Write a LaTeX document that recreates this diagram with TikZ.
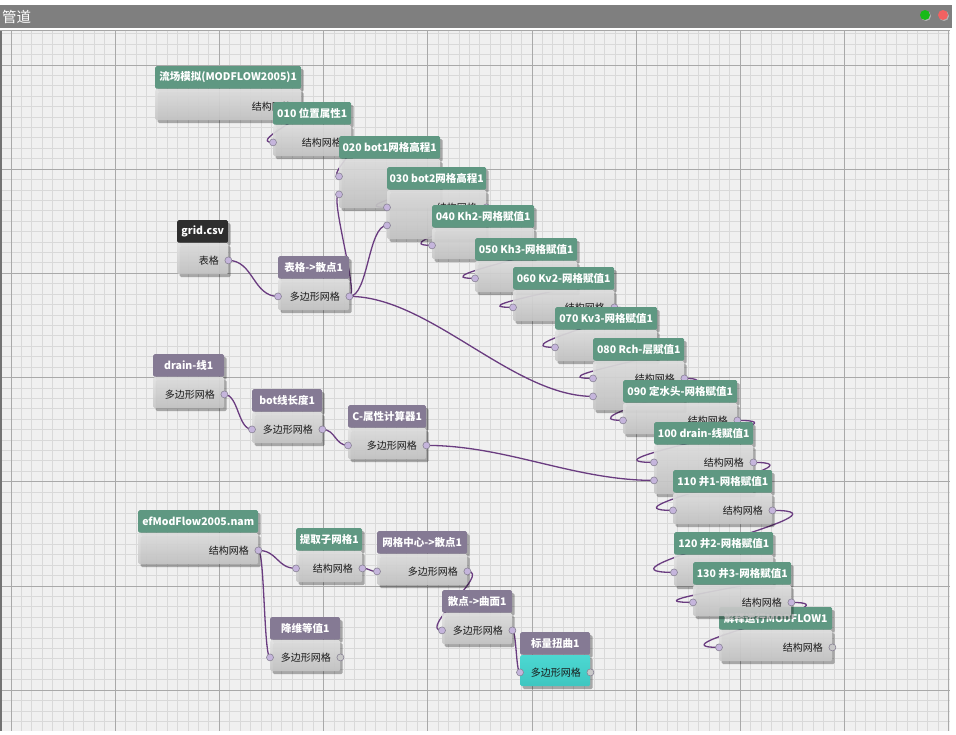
\documentclass[tikz,border=0pt]{standalone}
\usepackage{fontspec}
\setmainfont{Noto Sans CJK SC}
\usetikzlibrary{shadows}
\pgfdeclarelayer{back}
\pgfdeclarelayer{wires}
\pgfsetlayers{back,wires,main}
\definecolor{hdgreen}{HTML}{5F9882}
\definecolor{hdpurple}{HTML}{857A94}
\definecolor{hdblack}{HTML}{2E2E2E}
\definecolor{bodytop}{HTML}{E2E2E2}
\definecolor{bodybot}{HTML}{C6C6C6}
\definecolor{tealtop}{HTML}{4CD8D2}
\definecolor{tealbot}{HTML}{3EC6C0}
\definecolor{wirecol}{HTML}{6A3C80}
\definecolor{portfill}{HTML}{C5B5DC}
\definecolor{portrim}{HTML}{8A8496}
\definecolor{portgray}{HTML}{C8C8C8}
\definecolor{canvasbg}{HTML}{F0F0F0}
\definecolor{gridminor}{HTML}{D9D9D9}
\definecolor{gridmajor}{HTML}{A9A9A9}
\definecolor{titlebar}{HTML}{7F7F7F}
\tikzset{
    hdGreen/.style={fill=hdgreen},
    hdPurple/.style={fill=hdpurple},
    hdBlack/.style={fill=hdblack},
    blockHead/.style={rectangle, rounded corners=1.5pt, minimum height=22.5pt, inner sep=0pt, text=white, font=\bfseries\fontsize{10.5}{12}\selectfont, drop shadow={opacity=.3, shadow xshift=2.5pt, shadow yshift=-3pt, fill=black}},
    blockBody/.style={rectangle, rounded corners=1.5pt, inner sep=0pt, top color=bodytop, bottom color=bodybot, fill opacity=.9, drop shadow={opacity=.3, shadow xshift=2.5pt, shadow yshift=-3pt, fill=black}},
    portDot/.style={circle, draw=portrim, fill=portfill, line width=.6pt, inner sep=0pt, minimum size=7pt},
    portFree/.style={portDot, fill=portgray},
    bodyText/.style={font=\fontsize{10}{12}\selectfont, text=black!90, inner sep=0pt, label distance=5.5pt},
    wire/.style={draw=wirecol, line width=1.3pt},
    gridMinor/.style={draw=gridminor, line width=1pt},
    gridMajor/.style={draw=gridmajor, line width=1pt},
}
% 节点: 标题栏 + 主体
\newcommand{\drawBlock}[6][hdGreen]{
    \node[blockHead, #1, minimum width=#4pt, anchor=north west] (#2) at (#3) {#6};
    \node[blockBody, minimum width=#4pt, minimum height=#5pt, anchor=north west] (#2-b) at (#2.south west) {};
}
\newcommand{\inPort}[3]{
    \node[portDot] (#3) at ([yshift=-#2pt]#1.south west) {};
}
\newcommand{\outPort}[5][portDot]{
    \node[#1, label={[bodyText]left:#5}] (#4) at ([yshift=-#3pt]#2.south east) {};
}
\newcommand{\linkPorts}[3][40]{
    \draw[wire] (#2.center) .. controls +(#1,0) and +(-#1,0) .. (#3.center);
}

\begin{document}
\begin{tikzpicture}[x=1pt, y=-1pt]
    \useasboundingbox (0,0) rectangle (956,734);

    \begin{pgfonlayer}{back}
        \fill[white] (0,0) rectangle (956,734);
        \fill[titlebar] (0,4.5) rectangle (952,28);
        \fill[canvasbg] (2,30) rectangle (950,731);
        \fill[black!55] (0,30) rectangle (2,731);
        \draw[black!35, line width=1pt] (0,30) -- (950,30);
        \foreach \i in {0,...,90}
            \draw[gridMinor] ({11+\i*10.42},30.5) -- ({11+\i*10.42},731);
        \foreach \j in {-3,...,63}
            \draw[gridMinor] (2,{65+\j*10.42}) -- (950,{65+\j*10.42});
        \foreach \i in {0,...,9}
            \draw[gridMajor] ({11+\i*104.2},30.5) -- ({11+\i*104.2},731);
        \foreach \j in {0,...,6}
            \draw[gridMajor] (2,{65+\j*104.2}) -- (950,{65+\j*104.2});
        \fill[black!30] (926,16) circle (5pt);
        \fill[black!30] (944,16) circle (5pt);
        \fill[green!70!black!90] (925,15) circle (5pt);
        \fill[red!60!white!95!black] (943,15) circle (5pt);
    \end{pgfonlayer}

    \node[anchor=west, inner sep=0pt, text=white, font=\fontsize{14.5}{16}\selectfont] (title) at (2,16.5) {管道};

    % 主流程
    \drawBlock{flow}{155,66}{146}{31}{流场模拟(MODFLOW2005)1}
    \outPort{flow}{17.5}{flow-o}{结构网格}
    \drawBlock{s010}{273,102}{78}{31}{010 位置属性1}
    \inPort{s010}{17.5}{s010-i}
    \outPort{s010}{17.5}{s010-o}{结构网格}
    \drawBlock{s020}{339,136}{101}{49}{020 bot1网格高程1}
    \inPort{s020}{17.5}{s020-i1}
    \inPort{s020}{35.5}{s020-i2}
    \outPort{s020}{17.5}{s020-o}{结构网格}
    \drawBlock{s030}{387,167}{99}{49}{030 bot2网格高程1}
    \inPort{s030}{17.5}{s030-i1}
    \inPort{s030}{35.5}{s030-i2}
    \outPort{s030}{17.5}{s030-o}{结构网格}
    \drawBlock{s040}{432,205}{102}{31}{040 Kh2-网格赋值1}
    \inPort{s040}{17.5}{s040-i}
    \outPort{s040}{17.5}{s040-o}{结构网格}
    \drawBlock{s050}{475,238}{102}{31}{050 Kh3-网格赋值1}
    \inPort{s050}{17.5}{s050-i}
    \outPort{s050}{17.5}{s050-o}{结构网格}
    \drawBlock{s060}{513,267}{101}{31}{060 Kv2-网格赋值1}
    \inPort{s060}{17.5}{s060-i}
    \outPort{s060}{17.5}{s060-o}{结构网格}
    \drawBlock{s070}{555,307}{102}{31}{070 Kv3-网格赋值1}
    \inPort{s070}{17.5}{s070-i}
    \outPort{s070}{17.5}{s070-o}{结构网格}
    \drawBlock{s080}{593,338}{91}{49}{080 Rch-层赋值1}
    \inPort{s080}{17.5}{s080-i1}
    \inPort{s080}{35.5}{s080-i2}
    \outPort{s080}{17.5}{s080-o}{结构网格}
    \drawBlock{s090}{623,380}{114}{31}{090 定水头-网格赋值1}
    \inPort{s090}{17.5}{s090-i}
    \outPort{s090}{17.5}{s090-o}{结构网格}
    \drawBlock{s100}{654,422}{99}{49}{100 drain-线赋值1}
    \inPort{s100}{17.5}{s100-i1}
    \inPort{s100}{35.5}{s100-i2}
    \outPort{s100}{17.5}{s100-o}{结构网格}
    \drawBlock{s110}{673,470}{99}{31}{110 井1-网格赋值1}
    \inPort{s110}{17.5}{s110-i}
    \outPort{s110}{17.5}{s110-o}{结构网格}
    \drawBlock{s120}{674,532}{99}{31}{120 井2-网格赋值1}
    \inPort{s120}{17.5}{s120-i}
    \outPort{s120}{17.5}{s120-o}{结构网格}
    \drawBlock{run}{719,607}{113}{31}{解释运行MODFLOW1}
    \inPort{run}{17.5}{run-i}
    \outPort[portFree]{run}{17.5}{run-o}{结构网格}
    \drawBlock{s130}{693,562}{98}{31}{130 井3-网格赋值1}
    \inPort{s130}{17.5}{s130-i}
    \outPort{s130}{17.5}{s130-o}{结构网格}

    % 输入与预处理
    \drawBlock[hdBlack]{gridcsv}{177,220}{51}{31}{grid.csv}
    \outPort{gridcsv}{17.5}{gridcsv-o}{表格}
    \drawBlock[hdPurple]{tab2pt}{278,256}{71}{31}{表格->散点1}
    \inPort{tab2pt}{17.5}{tab2pt-i}
    \outPort{tab2pt}{17.5}{tab2pt-o}{多边形网格}
    \drawBlock[hdPurple]{drain}{153,354}{71}{31}{drain-线1}
    \outPort{drain}{17.5}{drain-o}{多边形网格}
    \drawBlock[hdPurple]{botlen}{252,389}{70}{31}{bot线长度1}
    \inPort{botlen}{17.5}{botlen-i}
    \outPort{botlen}{17.5}{botlen-o}{多边形网格}
    \drawBlock[hdPurple]{cattr}{348,405}{78}{31}{C-属性计算器1}
    \inPort{cattr}{17.5}{cattr-i}
    \outPort{cattr}{17.5}{cattr-o}{多边形网格}
    \drawBlock{nam}{138,510}{120}{31}{efModFlow2005.nam}
    \outPort{nam}{17.5}{nam-o}{结构网格}
    \drawBlock{subgrid}{296,528}{66}{31}{提取子网格1}
    \inPort{subgrid}{17.5}{subgrid-i}
    \outPort{subgrid}{17.5}{subgrid-o}{结构网格}
    \drawBlock[hdPurple]{center}{377,531}{90}{31}{网格中心->散点1}
    \inPort{center}{17.5}{center-i}
    \outPort{center}{17.5}{center-o}{多边形网格}
    \drawBlock[hdPurple]{surf}{442,590}{70}{31}{散点->曲面1}
    \inPort{surf}{17.5}{surf-i}
    \outPort{surf}{17.5}{surf-o}{多边形网格}
    \begin{scope}[blockBody/.append style={top color=tealtop, bottom color=tealbot, fill opacity=1}]
        \drawBlock[hdPurple]{warp}{520,632}{70}{31}{标量扭曲1}
    \end{scope}
    \inPort{warp}{17.5}{warp-i}
    \outPort[portFree]{warp}{17.5}{warp-o}{多边形网格}
    \drawBlock[hdPurple]{reduce}{270,617}{70}{31}{降维等值1}
    \inPort{reduce}{17.5}{reduce-i}
    \outPort[portFree]{reduce}{17.5}{reduce-o}{多边形网格}

    \begin{pgfonlayer}{wires}
        \linkPorts[28]{flow-o}{s010-i}
        \linkPorts[12]{s010-o}{s020-i1}
        \linkPorts[53]{s020-o}{s030-i1}
        \linkPorts[54]{s030-o}{s040-i}
        \linkPorts[59]{s040-o}{s050-i}
        \linkPorts[64]{s050-o}{s060-i}
        \linkPorts[59]{s060-o}{s070-i}
        \linkPorts[64]{s070-o}{s080-i1}
        \linkPorts[61]{s080-o}{s090-i}
        \linkPorts[83]{s090-o}{s100-i1}
        \linkPorts[80]{s100-o}{s110-i}
        \linkPorts[98]{s110-o}{s120-i}
        \linkPorts[80]{s120-o}{s130-i}
        \linkPorts[72]{s130-o}{run-i}
        \linkPorts[25]{gridcsv-o}{tab2pt-i}
        \linkPorts[10]{tab2pt-o}{s020-i2}
        \linkPorts[19]{tab2pt-o}{s030-i2}
        \linkPorts[80]{tab2pt-o}{s080-i2}
        \linkPorts[80]{cattr-o}{s100-i2}
        \linkPorts[14]{drain-o}{botlen-i}
        \linkPorts[13]{botlen-o}{cattr-i}
        \linkPorts[19]{nam-o}{subgrid-i}
        \linkPorts[6]{nam-o}{reduce-i}
        \linkPorts[8]{subgrid-o}{center-i}
        \linkPorts[25]{center-o}{surf-i}
        \linkPorts[4]{surf-o}{warp-i}
    \end{pgfonlayer}
\end{tikzpicture}
\end{document}
